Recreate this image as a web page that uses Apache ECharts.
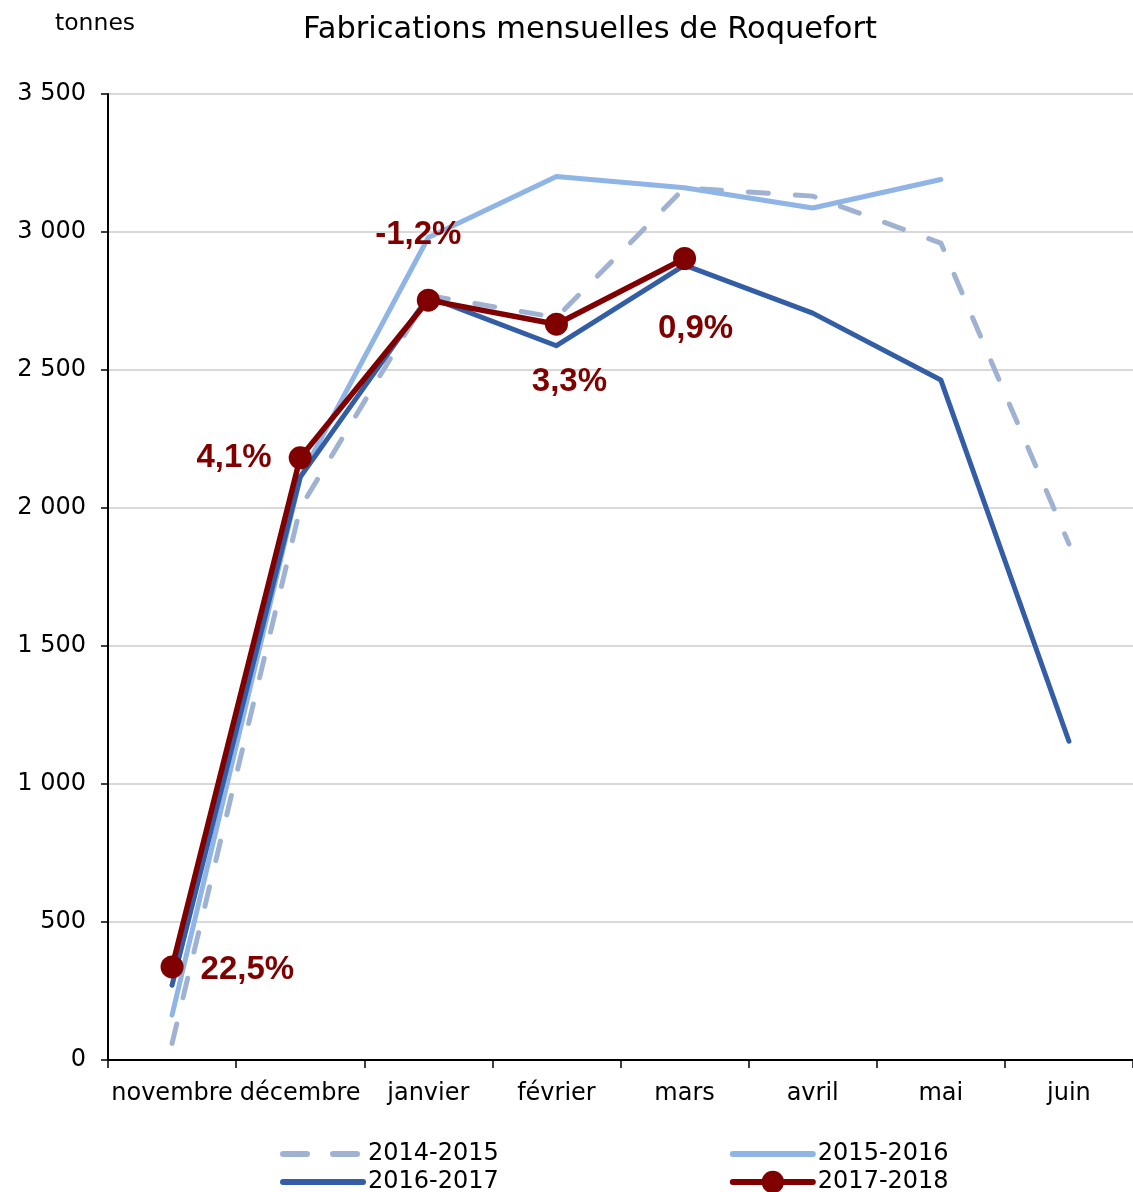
<!DOCTYPE html>
<html>
<head>
<meta charset="utf-8">
<script src="https://cdn.jsdelivr.net/npm/echarts@6/dist/echarts.min.js"></script>
<style>
  html, body { margin: 0; padding: 0; background: #fff; }
  #main { width: 1133px; height: 1192px; }
</style>
</head>
<body>
<div id="main"></div>
<script>
// mois de la campagne
var months = ['novembre', 'décembre', 'janvier', 'février', 'mars', 'avril', 'mai', 'juin'];

// fabrications en tonnes
var s2014 = [60, 2000, 2770, 2690, 3160, 3130, 2960, 1870];
var s2015 = [163, 2110, 2980, 3201, 3160, 3087, 3190, null];
var s2016 = [271, 2112, 2765, 2588, 2880, 2706, 2464, 1155];
var s2017 = [337, 2182, 2753, 2666, 2904];

// évolutions affichées sur la série 2017-2018
var pctLabels = ['22,5%', '4,1%', '-1,2%', '3,3%', '0,9%'];
var pctPos = ['right', 'left', 'top', 'bottom', 'bottom'];
var pctOffset = [[12, 3], [-12, 0], [-10, -32], [13, 25], [11, 37]];

var yTicks = [0, 500, 1000, 1500, 2000, 2500, 3000, 3500];

var FONT = '"DejaVu Sans", sans-serif';
var BOLD_FONT = '"Liberation Sans", Arial, sans-serif';

var myChart = echarts.init(document.getElementById('main'));

var redData = s2017.map(function (v, i) {
  return {
    value: v,
    label: {
      show: true,
      formatter: pctLabels[i],
      position: pctPos[i],
      offset: pctOffset[i]
    }
  };
});

var legendText = { fontFamily: FONT, fontSize: 24, color: '#000', padding: [0, 0, 0, 0] };

var option = {
  animation: false,
  backgroundColor: '#fff',
  textStyle: { fontFamily: FONT },
  title: [
    {
      text: 'Fabrications mensuelles de Roquefort',
      left: 298, top: 10,
      textStyle: { fontFamily: FONT, fontSize: 30.5, fontWeight: 'normal', color: '#000' }
    },
    {
      text: 'tonnes',
      left: 50, top: 7,
      textStyle: { fontFamily: FONT, fontSize: 23.5, fontWeight: 'normal', color: '#000' }
    }
  ],
  legend: [
    {
      data: [
        { name: '2014-2015', itemStyle: { opacity: 0 }, lineStyle: { width: 6, type: [24, 26], cap: 'round' } },
        { name: '2015-2016', itemStyle: { opacity: 0 }, lineStyle: { width: 6, cap: 'round' } }
      ],
      left: 275, top: 1137,
      itemWidth: 80, itemHeight: 28, itemGap: 231,
      textStyle: legendText
    },
    {
      data: [
        { name: '2016-2017', itemStyle: { opacity: 0 }, lineStyle: { width: 6, cap: 'round' } },
        { name: '2017-2018', lineStyle: { width: 6, cap: 'round' } }
      ],
      left: 275, top: 1165,
      itemWidth: 80, itemHeight: 28, itemGap: 231,
      textStyle: legendText
    }
  ],
  grid: { left: 108, right: 0, top: 94, bottom: 132, containLabel: false },
  xAxis: {
    type: 'category',
    data: months,
    boundaryGap: true,
    axisLine: { lineStyle: { color: '#000', width: 2 } },
    axisTick: { show: true, length: 8, lineStyle: { color: '#000', width: 1.5 } },
    axisLabel: { interval: 0, fontFamily: FONT, fontSize: 24, color: '#000', margin: 22 }
  },
  yAxis: {
    type: 'value',
    min: yTicks[0], max: yTicks[yTicks.length - 1], interval: 500,
    axisLine: { show: true, lineStyle: { color: '#000', width: 2 } },
    axisTick: { show: true, length: 7, lineStyle: { color: '#000', width: 1.5 } },
    splitLine: { lineStyle: { color: '#d9d9d9', width: 2 } },
    axisLabel: {
      fontFamily: FONT, fontSize: 24, color: '#000', margin: 22,
      formatter: function (v) { return String(v).replace(/\B(?=(\d{3})+(?!\d))/g, ' '); }
    }
  },
  series: [
    {
      name: '2014-2015', type: 'line', data: s2014,
      symbol: 'none', color: '#9fb2d2',
      lineStyle: { width: 5, type: [20, 27], cap: 'round', join: 'round', color: '#9fb2d2' }
    },
    {
      name: '2015-2016', type: 'line', data: s2015,
      symbol: 'none', color: '#8fb4e6',
      lineStyle: { width: 5, cap: 'round', join: 'round', color: '#8fb4e6' }
    },
    {
      name: '2016-2017', type: 'line', data: s2016,
      symbol: 'none', color: '#335ea5',
      lineStyle: { width: 5, cap: 'round', join: 'round', color: '#335ea5' }
    },
    {
      name: '2017-2018', type: 'line', data: redData,
      symbol: 'circle', symbolSize: 23, color: '#800000',
      itemStyle: { color: '#800000' },
      lineStyle: { width: 5.5, cap: 'round', join: 'round', color: '#800000' },
      label: {
        fontFamily: BOLD_FONT, fontSize: 33, fontWeight: 'bold', color: '#800000'
      }
    }
  ]
};

myChart.setOption(option);
</script>
</body>
</html>
